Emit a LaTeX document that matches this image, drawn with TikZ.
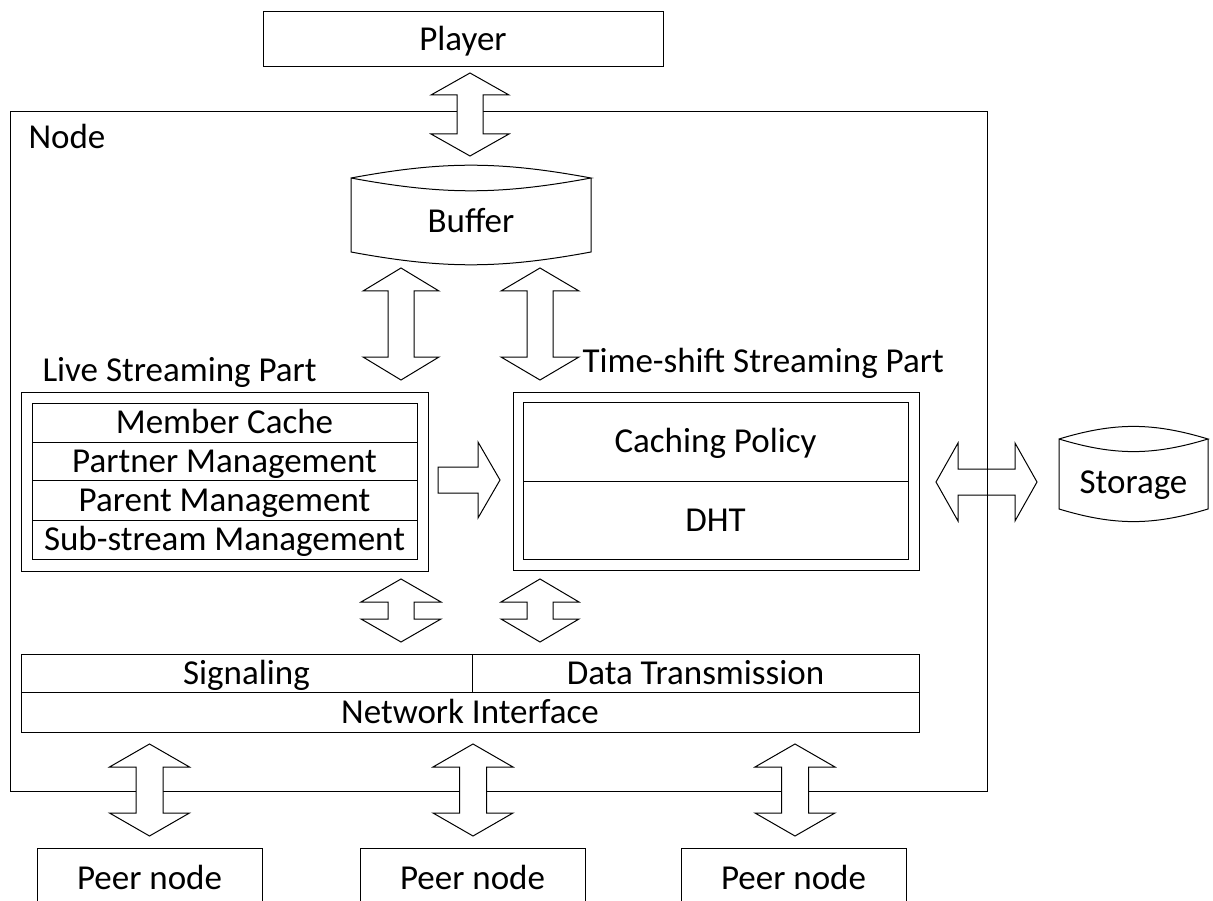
\documentclass[tikz,border=0pt]{standalone}
\usepackage{fontspec}
\setmainfont{Carlito}

% vertical double block arrow: centre x, top, bottom, head half-width, shaft half-width, head length
\newcommand\VArrow[6]{%
  \draw[blockarrow] (#1,#2) -- ({#1+#4},{#2+#6}) -- ({#1+#5},{#2+#6}) -- ({#1+#5},{#3-#6})
    -- ({#1+#4},{#3-#6}) -- (#1,#3) -- ({#1-#4},{#3-#6}) -- ({#1-#5},{#3-#6})
    -- ({#1-#5},{#2+#6}) -- ({#1-#4},{#2+#6}) -- cycle;}
% horizontal double block arrow: centre y, left, right, head half-height, shaft half-height, head length
\newcommand\HArrow[6]{%
  \draw[blockarrow] (#2,#1) -- ({#2+#6},{#1-#4}) -- ({#2+#6},{#1-#5}) -- ({#3-#6},{#1-#5})
    -- ({#3-#6},{#1-#4}) -- (#3,#1) -- ({#3-#6},{#1+#4}) -- ({#3-#6},{#1+#5})
    -- ({#2+#6},{#1+#5}) -- ({#2+#6},{#1+#4}) -- cycle;}
% can-shaped store: left x, right x, top y, bottom y, bend angle
\newcommand\Can[5]{%
  \draw (#1,#3) to[bend left=#5] (#2,#3) to[bend left=#5] (#1,#3) -- (#1,#4)
    to[bend right=#5] (#2,#4) -- (#2,#3);}

\begin{document}
\begin{tikzpicture}[x=1pt,y=-1pt,line width=1pt,
  font=\fontsize{35}{42}\selectfont,
  lbl/.style={inner sep=0pt,text height=22.5pt,text depth=0pt},
  box/.style={lbl,draw,fill=white},
  blockarrow/.style={draw,fill=white,line join=miter}]
\useasboundingbox (0,0) rectangle (1213,901);
\clip (0,0) rectangle (1213,901);

% player on top
\node[box,minimum width=400,minimum height=55] (player) at (463,39.5) {Player};

% storage link sits under the node frame
\HArrow{482}{936}{1037}{39}{13}{22}

% node frame
\node[draw,minimum width=977,minimum height=679,inner sep=0pt] (frame) at (498.5,451.5) {};
\node[lbl,anchor=west] (nodelbl) at (28,137) {Node};

% player <-> buffer
\VArrow{470}{73}{156}{39}{13}{22}

% buffer
\Can{351}{591}{178}{252}{10.5}
\node[lbl] (buffer) at (471,221) {Buffer};

% buffer <-> streaming parts
\VArrow{401}{268}{380}{38}{13}{23}
\VArrow{540}{268}{380}{39}{13}{23}

% live streaming part
\node[lbl,anchor=west] (livelbl) at (42,370.5) {Live Streaming Part};
\node[draw,minimum width=407,minimum height=179,inner sep=0pt] (live) at (224.5,481.5) {};
\node[box,minimum width=385,minimum height=39] (member) at (224.5,422.5) {Member Cache};
\node[box,minimum width=385,minimum height=38] (partner) at (224.5,461) {Partner Management};
\node[box,minimum width=385,minimum height=40] (parent) at (224.5,500) {Parent Management};
\node[box,minimum width=385,minimum height=39] (substream) at (224.5,539.5) {Sub-stream Management};

% live -> time-shift
\draw[blockarrow] (438,467) -- (478,467) -- (478,442) -- (500,480) -- (478,518) -- (478,493) -- (438,493) -- cycle;

% time-shift streaming part
\node[lbl,anchor=west] (timelbl) at (582,361.5) {Time-shift Streaming Part};
\node[draw,minimum width=406,minimum height=178,inner sep=0pt] (timeshift) at (716,481) {};
\node[box,minimum width=385,minimum height=79] (caching) at (715.5,441.5) {Caching Policy};
\node[box,minimum width=385,minimum height=78] (dht) at (715.5,520) {DHT};

% storage
\Can{1059}{1208}{439}{509}{16.8}
\node[lbl] (storage) at (1133.5,482) {Storage};

% parts <-> network
\VArrow{401}{579}{642}{40}{13}{23}
\VArrow{540}{579}{642}{39}{13}{23}

% network layer
\node[box,minimum width=451,minimum height=38] (signal) at (246.5,673) {Signaling};
\node[box,minimum width=447,minimum height=38] (data) at (695.5,673) {Data Transmission};
\node[box,minimum width=898,minimum height=40] (netif) at (470,712) {Network Interface};

% node <-> peers
\VArrow{149.5}{744}{836}{40}{13.5}{23}
\VArrow{473}{744}{836}{40}{13.5}{23}
\VArrow{795}{744}{836}{40}{13.5}{23}

% peer nodes
\draw (37,920) -- (37,848) -- (262,848) -- (262,920);
\draw (360,920) -- (360,848) -- (585,848) -- (585,920);
\draw (681,920) -- (681,848) -- (906,848) -- (906,920);
\node[lbl] (peer1) at (149.5,878) {Peer node};
\node[lbl] (peer2) at (472.5,878) {Peer node};
\node[lbl] (peer3) at (793.5,878) {Peer node};
\end{tikzpicture}
\end{document}
